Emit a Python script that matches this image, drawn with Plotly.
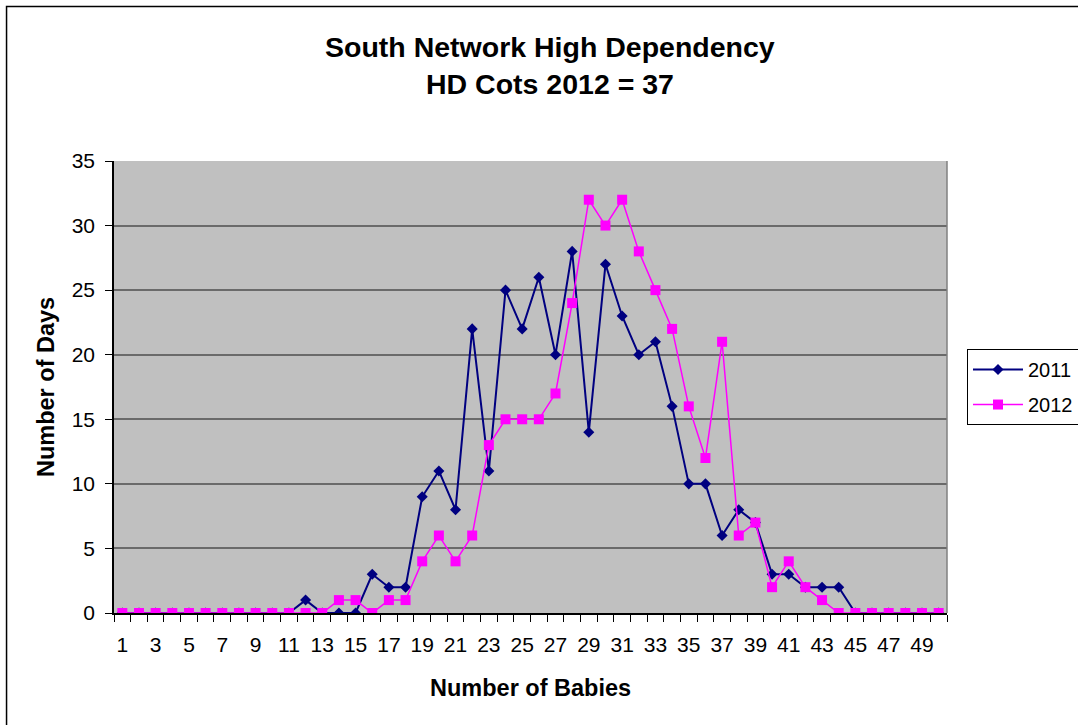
import plotly.graph_objects as go

babies = list(range(1, 51))
days_2011 = [0, 0, 0, 0, 0, 0, 0, 0, 0, 0,
             0, 1, 0, 0, 0, 3, 2, 2, 9, 11,
             8, 22, 11, 25, 22, 26, 20, 28, 14, 27,
             23, 20, 21, 16, 10, 10, 6, 8, 7, 3,
             3, 2, 2, 2, 0, 0, 0, 0, 0, 0]
days_2012 = [0, 0, 0, 0, 0, 0, 0, 0, 0, 0,
             0, 0, 0, 1, 1, 0, 1, 1, 4, 6,
             4, 6, 13, 15, 15, 15, 17, 24, 32, 30,
             32, 28, 25, 22, 16, 12, 21, 6, 7, 2,
             4, 2, 1, 0, 0, 0, 0, 0, 0, 0]
x_tick_labels = [str(v) for v in range(1, 51, 2)]
y_ticks = [0, 5, 10, 15, 20, 25, 30, 35]

FONT = "Liberation Sans, Arial, sans-serif"

fig = go.Figure()
fig.add_trace(go.Scatter(
    x=babies, y=days_2011, name="2011", mode="lines+markers",
    line=dict(color="#000080", width=2),
    marker=dict(symbol="diamond", size=8.5, color="#000080"),
    legendgroup="a",
))
fig.add_trace(go.Scatter(
    x=babies, y=days_2012, name="2012", mode="lines+markers",
    line=dict(color="#FF00FF", width=1.5),
    marker=dict(symbol="square", size=10, color="#FF00FF"),
    legendgroup="b",
))

fig.update_layout(
    width=1078, height=725,
    margin=dict(l=114, r=131, t=161, b=112, autoexpand=False),
    paper_bgcolor="white",
    plot_bgcolor="#C0C0C0",
    font=dict(family=FONT, size=21, color="black"),
    showlegend=True,
    legend=dict(
        x=1.024, y=0.584, xanchor="left", yanchor="top",
        bordercolor="black", borderwidth=1, bgcolor="white",
        font=dict(size=20, color="black"),
        tracegroupgap=6,
        itemwidth=50,
    ),
    xaxis=dict(
        range=[0.5, 50.5],
        tickmode="array",
        tickvals=[int(v) for v in x_tick_labels],
        ticktext=x_tick_labels,
        ticks="",
        ticklabelstandoff=12,
        showgrid=False,
        zeroline=False,
        showline=True, linecolor="black", linewidth=1.5,
        tickfont=dict(size=21),
        minor=dict(tick0=0.5, dtick=1, ticks="outside", ticklen=7,
                   tickcolor="black", tickwidth=1, showgrid=False),
    ),
    yaxis=dict(
        range=[0, 35],
        tickmode="array",
        tickvals=y_ticks,
        ticks="outside", ticklen=7, tickcolor="black", tickwidth=1,
        ticklabelstandoff=6,
        showgrid=True, gridcolor="#6a6a6a", gridwidth=1.5,
        zeroline=False,
        showline=True, linecolor="black", linewidth=1.5,
        tickfont=dict(size=21),
    ),
    shapes=[
        dict(type="line", xref="paper", yref="paper", x0=1, x1=1, y0=0, y1=1,
             line=dict(color="#808080", width=1.5)),
        dict(type="rect", xref="paper", yref="paper",
             x0=-0.129, x1=1.3, y0=-0.35, y1=1.342,
             line=dict(color="black", width=1.5), fillcolor="rgba(0,0,0,0)"),
    ],
    annotations=[
        dict(text="<b>South Network High Dependency</b>", xref="paper", yref="paper",
             x=0.5234, y=1.252, xanchor="center", yanchor="middle",
             showarrow=False, font=dict(size=28.5, color="black")),
        dict(text="<b>HD Cots 2012 = 37</b>", xref="paper", yref="paper",
             x=0.5234, y=1.170, xanchor="center", yanchor="middle",
             showarrow=False, font=dict(size=28.5, color="black")),
        dict(text="<b>Number of Babies</b>", xref="paper", yref="paper",
             x=0.5, y=-0.166, xanchor="center", yanchor="middle",
             showarrow=False, font=dict(size=23.5, color="black")),
        dict(text="<b>Number of Days</b>", xref="paper", yref="paper",
             x=-0.0816, y=0.5, xanchor="center", yanchor="middle",
             textangle=-90, showarrow=False, font=dict(size=23.5, color="black")),
    ],
)

fig.write_html("out.html", config={"displayModeBar": False},
               post_script="document.body.style.margin='0px';")
